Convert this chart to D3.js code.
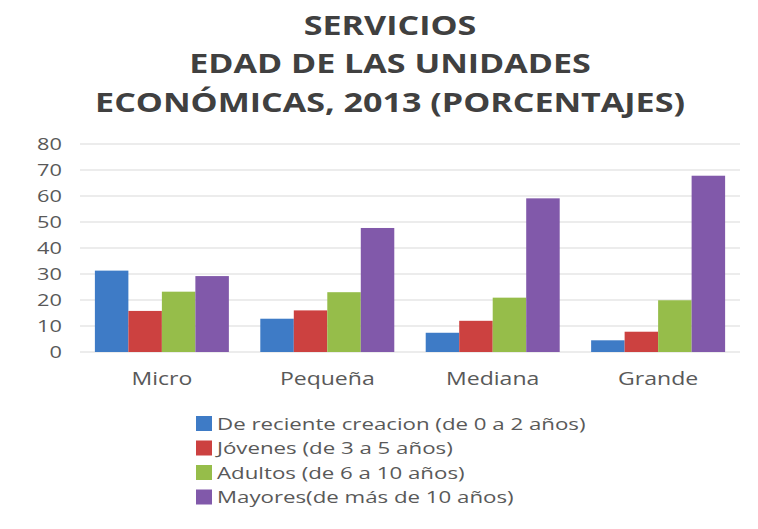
<!DOCTYPE html>
<html>
<head>
<meta charset="utf-8">
<script src="https://cdn.jsdelivr.net/npm/d3@7"></script>
<style>
  html, body { margin: 0; padding: 0; background: #ffffff; }
  svg { display: block; }
</style>
</head>
<body>
<svg id="chart" width="758" height="529"></svg>
<script>
// Servicios: edad de las unidades económicas, 2013 (porcentajes)
const titleLines = ["SERVICIOS", "EDAD DE LAS UNIDADES", "ECONÓMICAS, 2013 (PORCENTAJES)"];
const categories = ["Micro", "Pequeña", "Mediana", "Grande"];
const seriesNames = [
  "De reciente creacion (de 0 a 2 años)",
  "Jóvenes (de 3 a 5 años)",
  "Adultos (de 6 a 10 años)",
  "Mayores(de más de 10 años)"
];
const recienteValues = [31.3, 12.8, 7.4, 4.5];
const jovenesValues  = [15.8, 16.0, 12.0, 7.8];
const adultosValues  = [23.2, 23.0, 20.9, 19.9];
const mayoresValues  = [29.2, 47.7, 59.1, 67.8];
const yTicks = [0, 10, 20, 30, 40, 50, 60, 70, 80];
const seriesColors = ["#3e7bc6", "#cc4140", "#96bd4a", "#8159aa"];

const seriesValues = [recienteValues, jovenesValues, adultosValues, mayoresValues];

const svg = d3.select("#chart");
const font = "'Open Sans', 'DejaVu Sans', sans-serif";
const textColor = "#595959";
const wide = 1.28;   // horizontal stretch of the lettering

const plot = { left: 80, right: 740, top: 144, bottom: 352 };

const x0 = d3.scaleBand().domain(categories).range([plot.left, plot.right]).paddingInner(0.19).paddingOuter(0.09);
const x1 = d3.scaleBand().domain(d3.range(seriesNames.length)).range([0, x0.bandwidth()]);
const y = d3.scaleLinear().domain([0, 80]).range([plot.bottom, plot.top]);

// Title
const title = svg.append("g").attr("transform", "translate(390,0) scale(1.31,1)");
titleLines.forEach((t, i) => {
  title.append("text")
    .attr("x", 0).attr("y", 35 + i * 38.5)
    .attr("text-anchor", "middle")
    .attr("font-family", font).attr("font-weight", 700).attr("font-size", 26)
    .attr("fill", "#404040")
    .text(t);
});

// Gridlines
svg.append("g")
  .selectAll("line")
  .data(yTicks)
  .join("line")
  .attr("x1", plot.left).attr("x2", plot.right)
  .attr("y1", d => y(d)).attr("y2", d => y(d))
  .attr("stroke", "#d9d9d9").attr("stroke-width", 1);

// Y axis labels
const yAxis = d3.axisLeft(y).tickValues(yTicks).tickSize(0).tickPadding(0);
const yg = svg.append("g").attr("transform", `translate(${plot.left - 18},0)`).call(yAxis);
yg.select(".domain").remove();
yg.selectAll("text")
  .attr("font-family", font).attr("font-size", 17).attr("fill", textColor)
  .attr("x", 0).attr("dy", "0.35em")
  .attr("transform", `scale(${wide},1)`);

// Bars
const groups = svg.append("g")
  .selectAll("g")
  .data(categories)
  .join("g")
  .attr("transform", d => `translate(${x0(d)},0)`);

groups.selectAll("rect")
  .data((c, ci) => seriesValues.map((vals, si) => ({ si, v: vals[ci] })))
  .join("rect")
  .attr("x", d => x1(d.si))
  .attr("width", x1.bandwidth())
  .attr("y", d => y(d.v))
  .attr("height", d => y(0) - y(d.v))
  .attr("fill", d => seriesColors[d.si]);

// X axis labels
const xAxis = d3.axisBottom(x0).tickSize(0).tickPadding(0);
const xg = svg.append("g").attr("transform", `translate(0,${plot.bottom + 33})`).call(xAxis);
xg.select(".domain").remove();
xg.selectAll("text")
  .attr("font-family", font).attr("font-size", 18).attr("fill", textColor)
  .attr("dy", 0)
  .attr("transform", `scale(${wide},1)`);

// Legend
const legend = svg.append("g").attr("transform", "translate(196,414)");
seriesNames.forEach((name, i) => {
  const row = legend.append("g").attr("transform", `translate(0,${i * 24.5})`);
  row.append("rect").attr("x", 0).attr("y", 2).attr("width", 16).attr("height", 15)
    .attr("fill", seriesColors[i]);
  row.append("text")
    .attr("transform", `translate(21,15.5) scale(1.31,1)`)
    .attr("font-family", font).attr("font-size", 17).attr("fill", textColor)
    .text(name);
});
</script>
</body>
</html>
